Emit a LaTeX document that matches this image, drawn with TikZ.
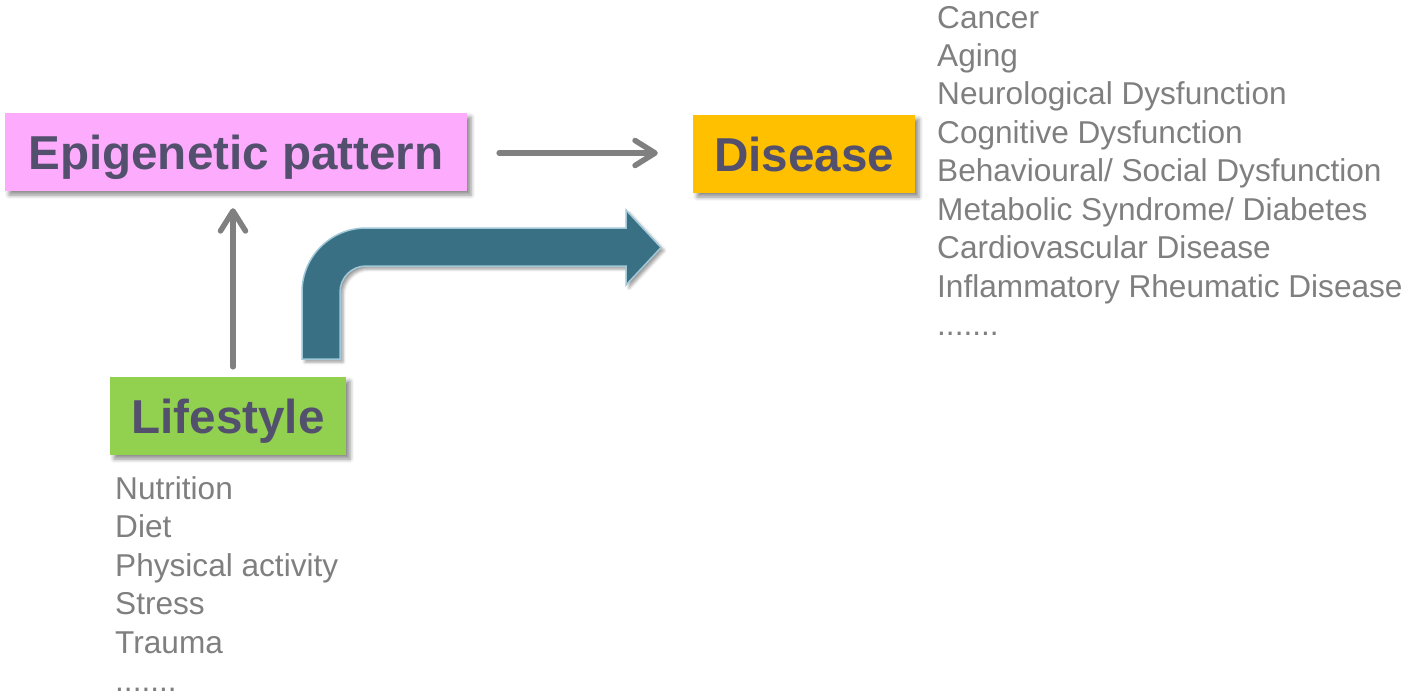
\documentclass[tikz,border=0pt]{standalone}
\usepackage{fontspec}
\setmainfont{Liberation Sans}
\usetikzlibrary{arrows.meta,shadows.blur}
\definecolor{pinkbox}{RGB}{253,171,253}
\definecolor{orangebox}{RGB}{255,192,0}
\definecolor{greenbox}{RGB}{146,208,80}
\definecolor{labeltext}{RGB}{83,80,110}
\definecolor{listgray}{RGB}{127,127,127}
\definecolor{arrowgray}{RGB}{128,128,128}
\definecolor{teal}{RGB}{58,112,131}
\definecolor{tealedge}{RGB}{160,200,216}
\tikzset{
  boxshadow/.style={blur shadow={shadow xshift=4pt,shadow yshift=-4pt,shadow blur radius=4pt,shadow opacity=45}},
  mainbox/.style={boxshadow,inner sep=0pt,text height=34.5pt,text depth=0pt,
    font=\fontsize{47.6}{50}\selectfont\bfseries,text=labeltext},
  listitem/.style={anchor=base west,inner sep=0pt,text=listgray,font=\fontsize{31.6}{36}\selectfont},
  grayarrow/.style={draw=arrowgray,line width=5.5pt,line cap=round,
    -{Straight Barb[length=20pt,width=25pt,round]}},
  bentarrow/.style={fill=teal,draw=tealedge,line width=1.5pt,line join=miter,
    blur shadow={shadow xshift=3pt,shadow yshift=-3pt,shadow blur radius=3pt,shadow opacity=40}}
}
\newcommand{\sevendots}{.......}
\begin{document}
\begin{tikzpicture}[x=1pt,y=-1pt]
\useasboundingbox (0,0) rectangle (1406,697);
% boxes
\node[mainbox,fill=pinkbox,minimum width=462pt,minimum height=78pt] (epi) at (236,152) {Epigenetic pattern};
\node[mainbox,fill=orangebox,minimum width=222pt,minimum height=78pt] (dis) at (804,154) {Disease};
\node[mainbox,fill=greenbox,minimum width=236pt,minimum height=78pt] (life) at (228,416) {Lifestyle};
% gray arrows
\draw[grayarrow,shorten <=32pt,shorten >=35pt] ([yshift=-1pt]epi.east) -- ([yshift=1pt]dis.west);
\draw[grayarrow,shorten <=10pt,shorten >=17pt] ([xshift=5pt]life.north) -- ([xshift=-3pt]epi.south);
% bent teal arrow
\path[bentarrow] (302,359) -- (302,292) .. controls (302,256.7) and (330.7,228) .. (366,228)
  -- (626,228) -- (626,210) -- (661,247.5) -- (626,285) -- (626,266) -- (366,266)
  .. controls (351.6,266) and (340,277.6) .. (340,292) -- (340,359) -- cycle;
% disease list
\foreach \t [count=\i from 0] in {Cancer,Aging,Neurological Dysfunction,Cognitive Dysfunction,Behavioural/ Social Dysfunction,Metabolic Syndrome/ Diabetes,Cardiovascular Disease,Inflammatory Rheumatic Disease}
  \node[listitem] (d\i) at (937,28+38.43*\i) {\t};
\node[listitem] (d8) at (937,335.4) {\sevendots};
% lifestyle list
\foreach \t [count=\i from 0] in {Nutrition,Diet,Physical activity,Stress,Trauma}
  \node[listitem] (l\i) at (115,499+38.5*\i) {\t};
\node[listitem] (l5) at (115,691.5) {\sevendots};
\end{tikzpicture}
\end{document}
